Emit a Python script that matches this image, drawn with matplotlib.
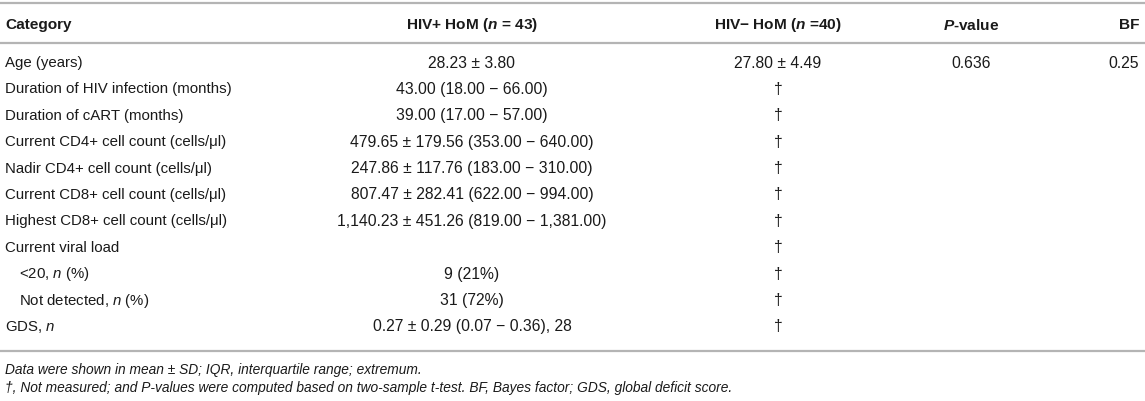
import matplotlib
matplotlib.use('Agg')
import matplotlib.pyplot as plt

plt.rcParams['font.family'] = ['Liberation Sans', 'DejaVu Sans']
plt.rcParams['mathtext.fontset'] = 'custom'
plt.rcParams['mathtext.rm'] = 'Liberation Sans'
plt.rcParams['mathtext.it'] = 'Liberation Sans:italic'
plt.rcParams['mathtext.bf'] = 'Liberation Sans:bold'
plt.rcParams['mathtext.bfit'] = 'Liberation Sans:bold:italic'

# Таблиця даних
headers = ['Category', r'HIV+ HoM ($\mathbfit{n}$ = 43)', r'HIV− HoM ($\mathbfit{n}$ =40)',
           r'$\mathbfit{P}$-value', 'BF']
categories = ['Age (years)',
              'Duration of HIV infection (months)',
              'Duration of cART (months)',
              'Current CD4+ cell count (cells/μl)',
              'Nadir CD4+ cell count (cells/μl)',
              'Current CD8+ cell count (cells/μl)',
              'Highest CD8+ cell count (cells/μl)',
              'Current viral load',
              r'<20, $\mathit{n}$ (%)',
              r'Not detected, $\mathit{n}$ (%)',
              r'GDS, $\mathit{n}$']
indent = [0, 0, 0, 0, 0, 0, 0, 0, 1, 1, 0]
hiv_pos = ['28.23 ± 3.80',
           '43.00 (18.00 − 66.00)',
           '39.00 (17.00 − 57.00)',
           '479.65 ± 179.56 (353.00 − 640.00)',
           '247.86 ± 117.76 (183.00 − 310.00)',
           '807.47 ± 282.41 (622.00 − 994.00)',
           '1,140.23 ± 451.26 (819.00 − 1,381.00)',
           '',
           '9 (21%)',
           '31 (72%)',
           '0.27 ± 0.29 (0.07 − 0.36), 28']
hiv_neg = ['27.80 ± 4.49', '†', '†', '†', '†', '†', '†', '†', '†', '†', '†']
p_values = ['0.636', '', '', '', '', '', '', '', '', '', '']
bf = ['0.25', '', '', '', '', '', '', '', '', '', '']
notes = ['Data were shown in mean ± SD; IQR, interquartile range; extremum.',
         '†, Not measured; and P-values were computed based on two-sample t-test. '
         'BF, Bayes factor; GDS, global deficit score.']

W, H = 1145, 402
fig = plt.figure(figsize=(W / 100, H / 100), dpi=100)
ax = fig.add_axes([0, 0, 1, 1])
ax.set_xlim(0, W)
ax.set_ylim(H, 0)
ax.axis('off')

fs_lab, fs_val, fs_head = 10.8, 11.3, 11.1
col_x = [5, 472, 778, 971, 1139]
col_ha = ['left', 'center', 'center', 'center', 'right']
rule_color = '#b4b4b4'
txt_color = '#1a1a1a'

# Лінії таблиці
for y in [4, 44, 352]:
    ax.plot([0, W], [y, y], color=rule_color, lw=1.6, solid_capstyle='butt')

# Заголовок
for x, ha, h in zip(col_x, col_ha, headers):
    ax.text(x, 25, h, ha=ha, va='center', fontsize=fs_head, fontweight='bold', color=txt_color)

# Рядки
row_y0, row_dy = 63, 26.4
for i, cat in enumerate(categories):
    y = row_y0 + i * row_dy
    ax.text(col_x[0] + 14 * indent[i], y, cat, ha='left', va='center', fontsize=fs_lab, color=txt_color)
    for x, ha, col in zip(col_x[1:], col_ha[1:], [hiv_pos, hiv_neg, p_values, bf]):
        if col[i]:
            ax.text(x, y, col[i], ha=ha, va='center', fontsize=fs_val, color=txt_color)

# Примітки
for j, note in enumerate(notes):
    ax.text(5, 370 + j * 18, note, ha='left', va='center', fontsize=9.9,
            style='italic', color=txt_color)

fig.savefig('out.png', dpi=100)
